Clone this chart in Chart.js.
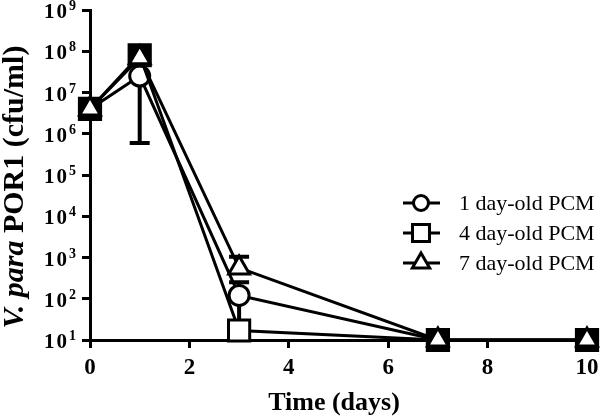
<!DOCTYPE html>
<html>
<head>
<meta charset="utf-8">
<script src="https://cdn.jsdelivr.net/npm/chart.js@4"></script>
<style>
  html, body { margin: 0; padding: 0; background: #fff; }
  #wrap { width: 600px; height: 418px; }
</style>
</head>
<body>
<div id="wrap"><canvas id="chart" width="600" height="418"></canvas></div>
<script>
// data
const days = [0, 1, 3, 7, 10];
const seriesNames = ['1 day-old PCM', '4 day-old PCM', '7 day-old PCM'];
const pcm1 = [4e6, 2.5e7, 120, 10, 10];
const pcm4 = [4e6, 8e7, 17, 10, 10];
const pcm7 = [4e6, 7e7, 560, 10, 10];
// error bar ends (null = not shown)
const pcm1Low = [null, 6e5, 25, null, null];
const pcm1High = [null, null, 250, null, null];
const pcm4Low = [null, null, null, null, null];
const pcm4High = [null, null, null, null, null];
const pcm7Low = [null, null, null, null, null];
const pcm7High = [null, null, 1050, null, null];
const xTicks = [0, 2, 4, 6, 8, 10];
const yTicks = [1e1, 1e2, 1e3, 1e4, 1e5, 1e6, 1e7, 1e8, 1e9];

const SERIF = '"Liberation Serif", "Times New Roman", serif';
const styles = ['circle', 'rect', 'triangle'];
const radii = [10, 15, 12];
const values = [pcm1, pcm4, pcm7];
const lows = [pcm1Low, pcm4Low, pcm7Low];
const highs = [pcm1High, pcm4High, pcm7High];

// where the symbols pile up the squares print solid black
const fills = [
    days.map(() => '#fff'),
    days.map(d => (d === 3 ? '#fff' : '#000')),
    days.map(() => '#fff')
];

const datasets = seriesNames.map((name, i) => ({
    label: name,
    data: days.map((d, j) => ({ x: d, y: values[i][j] })),
    borderColor: '#000',
    borderWidth: 3,
    pointStyle: styles[i],
    pointRadius: radii[i],
    pointBorderWidth: 3,
    pointBackgroundColor: fills[i],
    pointBorderColor: '#000',
    order: 2 - i,
    clip: false,
    errLow: lows[i],
    errHigh: highs[i]
}));

// error bars drawn from the scales, behind the markers
const errorBars = {
    id: 'errorBars',
    beforeDatasetsDraw(chart) {
        const ctx = chart.ctx;
        const xs = chart.scales.x, ys = chart.scales.y;
        ctx.save();
        ctx.strokeStyle = '#000';
        ctx.lineWidth = 4;
        chart.data.datasets.forEach(ds => {
            days.forEach((d, j) => {
                const px = xs.getPixelForValue(d);
                const py = ys.getPixelForValue(ds.data[j].y);
                [ds.errLow[j], ds.errHigh[j]].forEach(v => {
                    if (v == null) return;
                    const ey = ys.getPixelForValue(v);
                    ctx.beginPath();
                    ctx.moveTo(px, py);
                    ctx.lineTo(px, ey);
                    ctx.moveTo(px - 10, ey);
                    ctx.lineTo(px + 10, ey);
                    ctx.stroke();
                });
            });
        });
        ctx.restore();
    }
};

// tick labels with superscripts, axis titles and the legend
const decorations = {
    id: 'decorations',
    afterDraw(chart) {
        const ctx = chart.ctx;
        const ys = chart.scales.y;
        ctx.save();
        ctx.fillStyle = '#000';

        // y tick labels 10^n
        yTicks.forEach(v => {
            const y = ys.getPixelForValue(v);
            ctx.font = 'bold 21px ' + SERIF;
            ctx.textAlign = 'right';
            ctx.textBaseline = 'alphabetic';
            ctx.letterSpacing = '2px';
            ctx.fillText('10', 69, y + 8);
            ctx.letterSpacing = '0px';
            ctx.font = 'bold 14px ' + SERIF;
            ctx.textAlign = 'left';
            ctx.fillText(String(Math.round(Math.log10(v))), 69, y);
        });

        // x title
        ctx.font = 'bold 26px ' + SERIF;
        ctx.textAlign = 'center';
        ctx.textBaseline = 'middle';
        ctx.fillText('Time (days)', 334, 403);

        // y title, rotated, italic species name
        ctx.save();
        ctx.translate(23, 187);
        ctx.rotate(-Math.PI / 2);
        const part1 = 'V. para';
        const part2 = ' POR1 (cfu/ml)';
        ctx.font = 'italic bold 30px ' + SERIF;
        const w1 = ctx.measureText(part1).width;
        ctx.font = 'bold 30px ' + SERIF;
        const w2 = ctx.measureText(part2).width;
        const start = -(w1 + w2) / 2;
        ctx.textAlign = 'left';
        ctx.textBaseline = 'alphabetic';
        ctx.font = 'italic bold 30px ' + SERIF;
        ctx.fillText(part1, start, 0);
        ctx.font = 'bold 30px ' + SERIF;
        ctx.fillText(part2, start + w1, 0);
        ctx.restore();

        // legend
        const rowsY = [203, 233, 263];
        const legendR = [7.5, 12, 10];
        seriesNames.forEach((name, i) => {
            const y = rowsY[i];
            ctx.strokeStyle = '#000';
            ctx.lineWidth = 3;
            ctx.beginPath();
            ctx.moveTo(403, y);
            ctx.lineTo(440, y);
            ctx.stroke();
            ctx.fillStyle = '#fff';
            ctx.strokeStyle = '#000';
            ctx.lineWidth = 3;
            Chart.helpers.drawPoint(ctx, { pointStyle: styles[i], radius: legendR[i], borderWidth: 3, rotation: 0 }, 421, y);
            ctx.fillStyle = '#000';
            ctx.font = '22px ' + SERIF;
            ctx.textAlign = 'left';
            ctx.textBaseline = 'middle';
            ctx.fillText(name, 459, y + 1);
        });
        ctx.restore();
    }
};

new Chart(document.getElementById('chart'), {
    type: 'line',
    data: { datasets: datasets },
    options: {
        responsive: false,
        animation: false,
        layout: { autoPadding: false, padding: { top: 10, right: 13, left: 0, bottom: 0 } },
        plugins: { legend: { display: false }, tooltip: { enabled: false } },
        scales: {
            x: {
                type: 'linear',
                min: 0,
                max: 10,
                afterBuildTicks: s => { s.ticks = xTicks.map(v => ({ value: v })); },
                afterFit: s => { s.height = 78; s.paddingLeft = 0; s.paddingRight = 0; },
                border: { color: '#000', width: 3 },
                grid: { drawOnChartArea: false, drawTicks: true, tickLength: 8, color: '#000', lineWidth: 3 },
                ticks: { color: '#000', font: { family: SERIF, size: 23, weight: 'bold' }, padding: 6, maxRotation: 0 }
            },
            y: {
                type: 'logarithmic',
                min: 10,
                max: 1e9,
                afterBuildTicks: s => { s.ticks = yTicks.map(v => ({ value: v })); },
                afterFit: s => { s.width = 90; s.paddingTop = 0; s.paddingBottom = 0; },
                border: { color: '#000', width: 3 },
                grid: { drawOnChartArea: false, drawTicks: true, tickLength: 8, color: '#000', lineWidth: 3 },
                ticks: { display: false }
            }
        }
    },
    plugins: [errorBars, decorations]
});
</script>
</body>
</html>
